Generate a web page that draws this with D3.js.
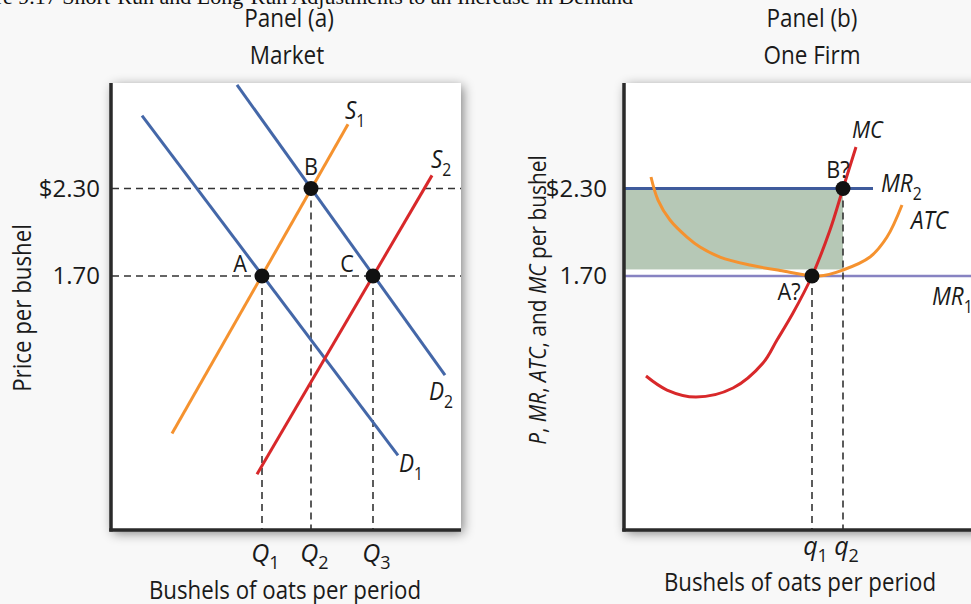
<!DOCTYPE html>
<html><head><meta charset="utf-8">
<script src="https://cdn.jsdelivr.net/npm/d3@7"></script>
<style>body{margin:0;background:#f8f8f8;overflow:hidden}svg{display:block}</style>
</head><body><svg id="c" width="971" height="604"></svg>
<script>
// ---------- data ----------
const prices = [1.70, 2.30];
const priceLabels = ["1.70", "$2.30"];
// Panel (a) market
const marketQ = [3.02, 4.0, 5.24];          // Q1, Q2, Q3
const marketQSub = ["1", "2", "3"];
const demand1 = [[0.62, 2.80], [5.74, 0.47]];
const demand2 = [[2.52, 3.01], [6.68, 1.02]];
const supply1 = [[1.22, 0.62], [4.74, 2.74]];
const supply2 = [[2.92, 0.34], [6.42, 2.39]];
const marketPointNames = ["A", "B", "C"];
const marketPointQ = [3.02, 4.0, 5.24];
const marketPointP = [1.70, 2.30, 1.70];
// Panel (b) firm
const firmQ = [3.76, 4.38];                 // q1, q2
const firmQSub = ["1", "2"];
const mcQ = [0.44, 0.86, 1.44, 2.18, 2.78, 3.06, 3.38, 3.76, 4.12, 4.38, 4.64];
const mcP = [1.014, 0.918, 0.870, 0.932, 1.103, 1.261, 1.446, 1.70, 2.015, 2.30, 2.585];
const atcQ = [0.54, 0.68, 0.92, 1.26, 1.52, 1.92, 2.52, 3.12, 3.9, 4.38, 4.92, 5.26, 5.56];
const atcP = [2.379, 2.221, 2.084, 1.967, 1.899, 1.830, 1.775, 1.738, 1.70, 1.741, 1.830, 1.967, 2.187];
const mr2Range = [0, 4.98];
const mr1Range = [0, 7.2];
const atcAtQ2 = 1.745;
const firmPointNames = ["A?", "B?"];
const firmPointQ = [3.76, 4.38];
const firmPointP = [1.70, 2.30];

// ---------- setup ----------
const font = "'Open Sans','Noto Sans',sans-serif";
const svg = d3.select("#c");
svg.append("rect").attr("width", 971).attr("height", 604).attr("fill", "#f8f8f8");
const defs = svg.append("defs");
const f = defs.append("filter").attr("id", "sh").attr("x", "-20%").attr("y", "-20%").attr("width", "140%").attr("height", "140%");
f.append("feGaussianBlur").attr("in", "SourceAlpha").attr("stdDeviation", 6).attr("result", "b");
f.append("feOffset").attr("in", "b").attr("dx", 2).attr("dy", 3).attr("result", "o");
f.append("feComponentTransfer").attr("in", "o").attr("result", "s").append("feFuncA").attr("type", "linear").attr("slope", 0.5);
const mg = f.append("feMerge"); mg.append("feMergeNode").attr("in", "s"); mg.append("feMergeNode").attr("in", "SourceGraphic");

const TOP = 83, BOT = 530;
const y = d3.scaleLinear().domain([1.70, 2.30]).range([276, 188.5]);
const xA = d3.scaleLinear().domain([0, 7]).range([111, 461]);
const xB = d3.scaleLinear().domain([0, 7]).range([624, 974]);

function tx(g, x, yy, parts, o = {}) {
  const size = o.size || 24, sx = o.sx || 0.9, rot = o.rot || 0;
  const t = g.append("text")
    .attr("transform", `translate(${x},${yy})${rot ? ` rotate(${rot})` : ""} scale(${sx},1)`)
    .attr("text-anchor", o.anchor || "start")
    .style("font-family", o.family || font).style("font-size", size + "px").attr("fill", "#1a1a1a");
  let shifted = false;
  parts.forEach(p => {
    if (typeof p === "string") p = { t: p };
    const s = t.append("tspan").text(p.t);
    if (p.i) s.style("font-style", "italic");
    if (p.sub) { s.attr("dy", size * 0.3).style("font-size", (size * 0.7) + "px"); shifted = true; }
    else if (shifted) { s.attr("dy", -size * 0.3); shifted = false; }
  });
  return t;
}

// caption (cropped at top-left, as in the source figure)
svg.append("text").attr("x", 633).attr("y", 4).attr("text-anchor", "end")
  .style("font-family", "'Liberation Serif','Times New Roman',serif").style("font-size", "22px").attr("fill", "#111")
  .text("Figure 9.17 Short-Run and Long-Run Adjustments to an Increase in Demand");

// titles
tx(svg, 289, 27, ["Panel (a)"], { anchor: "middle", size: 25 });
tx(svg, 287, 64, ["Market"], { anchor: "middle", size: 25 });
tx(svg, 812, 27, ["Panel (b)"], { anchor: "middle", size: 25 });
tx(svg, 812, 64, ["One Firm"], { anchor: "middle", size: 25 });

function panelBox(g, x, w) {
  g.append("rect").attr("x", x).attr("y", TOP).attr("width", w).attr("height", BOT - TOP).attr("fill", "#fff").attr("filter", "url(#sh)");
}
function axesLines(g, x0, x1) {
  g.append("line").attr("x1", x0).attr("x2", x0).attr("y1", TOP).attr("y2", BOT + 1.5).attr("stroke", "#2a2a2a").attr("stroke-width", 3.5);
  g.append("line").attr("x1", x0 - 1.75).attr("x2", x1).attr("y1", BOT).attr("y2", BOT).attr("stroke", "#2a2a2a").attr("stroke-width", 3.5);
}
function yTicks(g, x, pad) {
  const ax = d3.axisLeft(y).tickValues(prices).tickFormat((d, i) => priceLabels[i]).tickSize(0).tickPadding(pad);
  const a = g.append("g").attr("transform", `translate(${x},0)`).call(ax);
  a.select(".domain").remove();
  a.selectAll("text").style("font-family", font).style("font-size", "24px").attr("fill", "#1a1a1a");
}
function xTicks(g, xs, vals, letter, subs, off) {
  const ax = d3.axisBottom(xs).tickValues(vals).tickFormat("").tickSize(0).tickPadding(0);
  const a = g.append("g").attr("transform", `translate(0,${BOT})`).call(ax);
  a.select(".domain").remove();
  a.selectAll(".tick text").each(function (d, i) {
    const t = d3.select(this).attr("x", 3).attr("y", off).attr("dy", null).style("font-family", font).style("font-size", "25px").attr("fill", "#1a1a1a").attr("text-anchor", "middle");
    t.append("tspan").style("font-style", "italic").text(letter);
    t.append("tspan").attr("dy", 7).style("font-size", "18px").text(subs[i]);
  });
}
const line = (xs) => d3.line().x(d => xs(d[0])).y(d => y(d[1]));
const dash = (g, x1, y1, x2, y2) => g.append("line").attr("x1", x1).attr("y1", y1).attr("x2", x2).attr("y2", y2)
  .attr("stroke", "#333").attr("stroke-width", 1.6).attr("stroke-dasharray", "7,5");

// ---------- Panel (a) ----------
const gA = svg.append("g");
panelBox(gA, 111, 350);
prices.forEach(p => dash(gA, 112, y(p), 461, y(p)));
marketQ.forEach((q, i) => dash(gA, xA(q), y(marketPointP[i]), xA(q), BOT));
const pathA = line(xA);
gA.append("path").attr("d", pathA(demand1)).attr("stroke", "#4467a8").attr("stroke-width", 3).attr("fill", "none");
gA.append("path").attr("d", pathA(demand2)).attr("stroke", "#4467a8").attr("stroke-width", 3).attr("fill", "none");
gA.append("path").attr("d", pathA(supply1)).attr("stroke", "#f5922f").attr("stroke-width", 3).attr("fill", "none");
gA.append("path").attr("d", pathA(supply2)).attr("stroke", "#d8282a").attr("stroke-width", 3).attr("fill", "none");
marketPointQ.forEach((q, i) => gA.append("circle").attr("cx", xA(q)).attr("cy", y(marketPointP[i])).attr("r", 7.5).attr("fill", "#111"));
axesLines(gA, 111, 461);
yTicks(gA, 111, 11);
xTicks(gA, xA, marketQ, "Q", marketQSub, 32);
tx(gA, 240, 272, [marketPointNames[0]], { anchor: "middle" });
tx(gA, 311, 175, [marketPointNames[1]], { anchor: "middle" });
tx(gA, 347, 272, [marketPointNames[2]], { anchor: "middle" });
tx(gA, 345, 119, [{ t: "S", i: 1 }, { t: "1", sub: 1 }], { size: 25 });
tx(gA, 431, 168, [{ t: "S", i: 1 }, { t: "2", sub: 1 }], { size: 25 });
tx(gA, 429, 400, [{ t: "D", i: 1 }, { t: "2", sub: 1 }], { size: 25 });
tx(gA, 399, 472, [{ t: "D", i: 1 }, { t: "1", sub: 1 }], { size: 25 });
tx(gA, 285, 599, ["Bushels of oats per period"], { anchor: "middle", size: 25, sx: 0.89 });
tx(gA, 31, 308, ["Price per bushel"], { anchor: "middle", size: 25, sx: 0.89, rot: -90 });

// ---------- Panel (b) ----------
const gB = svg.append("g");
panelBox(gB, 624, 360);
gB.append("rect").attr("x", xB(0)).attr("y", y(2.30)).attr("width", xB(firmQ[1]) - xB(0)).attr("height", y(atcAtQ2) - y(2.30)).attr("fill", "#b6c8b6");
gB.append("line").attr("x1", xB(mr1Range[0])).attr("x2", xB(mr1Range[1])).attr("y1", y(1.70)).attr("y2", y(1.70)).attr("stroke", "#8783c2").attr("stroke-width", 2.5);
gB.append("line").attr("x1", xB(mr2Range[0])).attr("x2", xB(mr2Range[1])).attr("y1", y(2.30)).attr("y2", y(2.30)).attr("stroke", "#3f5b9c").attr("stroke-width", 3);
firmQ.forEach((q, i) => dash(gB, xB(q), y(firmPointP[i]), xB(q), BOT));
const curve = d3.line().x(d => xB(d[0])).y(d => y(d[1])).curve(d3.curveCatmullRom.alpha(0.5));
gB.append("path").attr("d", curve(atcQ.map((q, i) => [q, atcP[i]]))).attr("stroke", "#f5922f").attr("stroke-width", 3).attr("fill", "none");
gB.append("path").attr("d", curve(mcQ.map((q, i) => [q, mcP[i]]))).attr("stroke", "#d8282a").attr("stroke-width", 3).attr("fill", "none");
firmPointQ.forEach((q, i) => gB.append("circle").attr("cx", xB(q)).attr("cy", y(firmPointP[i])).attr("r", 7.5).attr("fill", "#111"));
axesLines(gB, 624, 975);
yTicks(gB, 624, 17);
xTicks(gB, xB, firmQ, "q", firmQSub, 25);
tx(gB, 789, 300, [firmPointNames[0]], { anchor: "middle" });
tx(gB, 838, 178, [firmPointNames[1]], { anchor: "middle" });
tx(gB, 852, 138, [{ t: "MC", i: 1 }], { size: 24 });
tx(gB, 881, 192, [{ t: "MR", i: 1 }, { t: "2", sub: 1 }], { size: 25 });
tx(gB, 911, 229, [{ t: "ATC", i: 1 }], { size: 25 });
tx(gB, 932, 305, [{ t: "MR", i: 1 }, { t: "1", sub: 1 }], { size: 25 });
tx(gB, 800, 591, ["Bushels of oats per period"], { anchor: "middle", size: 25, sx: 0.89 });
tx(gB, 546, 300, [{ t: "P", i: 1 }, ", ", { t: "MR", i: 1 }, ", ", { t: "ATC", i: 1 }, ", and ", { t: "MC", i: 1 }, " per bushel"], { anchor: "middle", size: 24, sx: 0.87, rot: -90 });
</script></body></html>
